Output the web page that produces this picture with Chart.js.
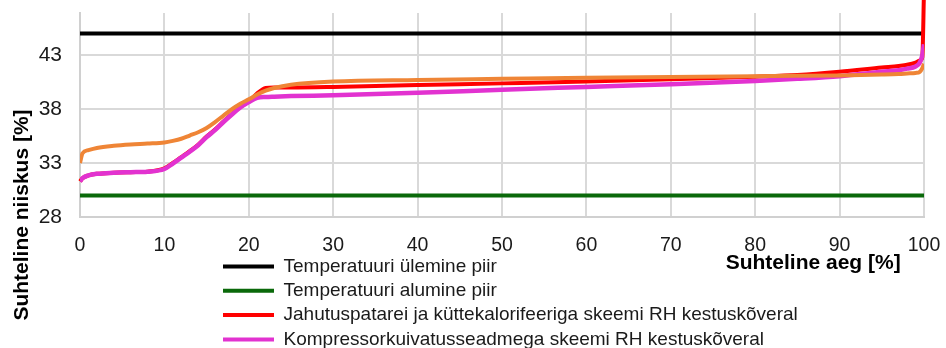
<!DOCTYPE html>
<html lang="et">
<head>
<meta charset="utf-8">
<title>Suhteline niiskus – kestuskõverad</title>
<script src="https://cdn.jsdelivr.net/npm/chart.js@4/dist/chart.umd.min.js"></script>
<style>
  html, body { margin: 0; padding: 0; background: #fff; overflow: hidden; }
  #wrap { position: relative; width: 946px; height: 348px; }
</style>
</head>
<body>
<div id="wrap"><canvas id="chart"></canvas></div>
<script>
// Suhteline aeg [%] – common x positions of the duration curves
const timeShare = [0, 0.3, 1, 2, 4, 6, 8, 10, 11, 12, 13, 14, 15, 16, 17, 18, 19, 20, 21, 22, 23, 25, 30, 40, 50, 60, 70, 80, 85, 90, 95, 97, 98, 99, 99.5, 99.8, 100];

// RH duration curve, cooling coil + heater scheme [%]
const coolerHeaterRH = [31.3, 31.6, 31.85, 32.0, 32.1, 32.15, 32.2, 32.5, 33.0, 33.55, 34.1, 34.7, 35.45, 36.1, 36.85, 37.55, 38.2, 38.7, 39.45, 39.95, 40.0, 40.0, 40.05, 40.22, 40.38, 40.55, 40.76, 41.0, 41.15, 41.45, 41.85, 42.0, 42.1, 42.3, 42.5, 42.8, 49];

// RH duration curve, compressor dryer scheme [%]
const compressorRH = [31.3, 31.6, 31.85, 32.0, 32.1, 32.15, 32.2, 32.45, 32.95, 33.5, 34.05, 34.65, 35.4, 36.05, 36.8, 37.5, 38.15, 38.65, 39.05, 39.12, 39.15, 39.2, 39.28, 39.5, 39.8, 40.05, 40.3, 40.6, 40.8, 41.05, 41.45, 41.6, 41.75, 41.95, 42.3, 43.0, 44.0];

// RH duration curve, third scheme [%]
const thirdSchemeRH = [33.0, 33.9, 34.2, 34.4, 34.6, 34.72, 34.8, 34.9, 35.05, 35.25, 35.55, 35.85, 36.25, 36.8, 37.4, 38.0, 38.5, 38.9, 39.35, 39.7, 39.95, 40.25, 40.55, 40.7, 40.8, 40.9, 40.98, 41.05, 41.08, 41.12, 41.2, 41.25, 41.3, 41.35, 41.45, 41.8, 42.2];

// Limits [%]
const upperLimit = 45;
const lowerLimit = 30;

const seriesNames = [
  'Temperatuuri ülemine piir',
  'Temperatuuri alumine piir',
  'Jahutuspatarei ja küttekalorifeeriga skeemi RH kestuskõveral',
  'Kompressorkuivatusseadmega skeemi RH kestuskõveral',
  ''
];

const yTickValues = [28, 33, 38, 43];
const xTitle = 'Suhteline aeg [%]';
const yTitle = 'Suhteline niiskus [%]';

const FONT = "'Liberation Sans', Arial, sans-serif";

const toPoints = ys => timeShare.map((x, i) => ({ x: x, y: ys[i] }));
const flatLine = v => [{ x: 0, y: v }, { x: 100, y: v }];

// rotated y-axis title, set lower than the plot's centre
const yTitlePlugin = {
  id: 'yTitle',
  afterDraw(chart) {
    const ctx = chart.ctx;
    ctx.save();
    ctx.translate(22, 215);
    ctx.rotate(-Math.PI / 2);
    ctx.font = 'bold 21px ' + FONT;
    ctx.fillStyle = '#000';
    ctx.textAlign = 'center';
    ctx.textBaseline = 'middle';
    ctx.fillText(yTitle, 0, 0);
    ctx.restore();
  }
};

// legend block sits under the x axis, left-aligned near x = 223
const legendPlacement = {
  id: 'legendPlacement',
  afterLayout(chart) {
    const lg = chart.legend;
    if (!lg) return;
    const pad = lg.options.labels.padding;
    const w = lg.width, h = lg.height;
    lg.left = 223 - pad;
    lg.top = 257 - pad;
    lg.right = lg.left + w;
    lg.bottom = lg.top + h;
  }
};

const gridStyle = { color: '#d9d9d9', lineWidth: 2, drawTicks: false };
const borderStyle = { color: '#d0d0d0', width: 2 };

new Chart(document.getElementById('chart'), {
  type: 'line',
  data: {
    datasets: [
      { label: seriesNames[0], data: flatLine(upperLimit), borderColor: '#000000', backgroundColor: '#000000', borderWidth: 4, order: 4 },
      { label: seriesNames[1], data: flatLine(lowerLimit), borderColor: '#0a690a', backgroundColor: '#0a690a', borderWidth: 4, order: 3 },
      { label: seriesNames[2], data: toPoints(coolerHeaterRH), borderColor: '#ff0000', backgroundColor: '#ff0000', borderWidth: 4, order: 2, clip: false },
      { label: seriesNames[3], data: toPoints(compressorRH), borderColor: '#e232d0', backgroundColor: '#e232d0', borderWidth: 4.5, order: 1 },
      { label: seriesNames[4], data: toPoints(thirdSchemeRH), borderColor: '#ef8536', backgroundColor: '#ef8536', borderWidth: 4, order: 0 }
    ]
  },
  options: {
    responsive: true,
    maintainAspectRatio: false,
    animation: false,
    devicePixelRatio: 1,
    layout: { padding: { left: 0, right: 22, top: 13, bottom: 0 } },
    elements: {
      point: { radius: 0, hoverRadius: 0 },
      line: { cubicInterpolationMode: 'monotone', fill: false }
    },
    scales: {
      x: {
        type: 'linear',
        min: 0,
        max: 100,
        ticks: { stepSize: 10, padding: 17, maxRotation: 0, color: '#1a1a1a', font: { family: FONT, size: 19.5 } },
        grid: gridStyle,
        border: borderStyle,
        title: {
          display: true,
          text: xTitle + '\u00a0\u00a0\u00a0\u00a0',
          align: 'end',
          color: '#000',
          font: { family: FONT, size: 21, weight: 'bold' },
          padding: { top: 0, bottom: 72 }
        },
        afterFit: s => { s.height = 131; s.paddingLeft = 0; s.paddingRight = 0; }
      },
      y: {
        type: 'linear',
        min: 28,
        max: 46.9,
        ticks: { padding: 18, color: '#1a1a1a', font: { family: FONT, size: 21 } },
        afterBuildTicks: s => { s.ticks = yTickValues.map(v => ({ value: v })); },
        grid: gridStyle,
        border: borderStyle,
        afterFit: s => { s.width = 80; s.paddingTop = 0; s.paddingBottom = 0; }
      }
    },
    plugins: {
      tooltip: { enabled: false },
      legend: {
        position: 'chartArea',
        align: 'start',
        labels: {
          boxWidth: 51,
          boxHeight: 4,
          padding: 5.3,
          color: '#1a1a1a',
          font: { family: FONT, size: 19 },
          filter: item => item.text !== '',
          sort: (a, b) => a.datasetIndex - b.datasetIndex,
          generateLabels: chart => Chart.defaults.plugins.legend.labels.generateLabels(chart)
            .map(it => Object.assign(it, { fillStyle: it.strokeStyle, lineWidth: 0 }))
        }
      }
    }
  },
  plugins: [yTitlePlugin, legendPlacement]
});
</script>
</body>
</html>
